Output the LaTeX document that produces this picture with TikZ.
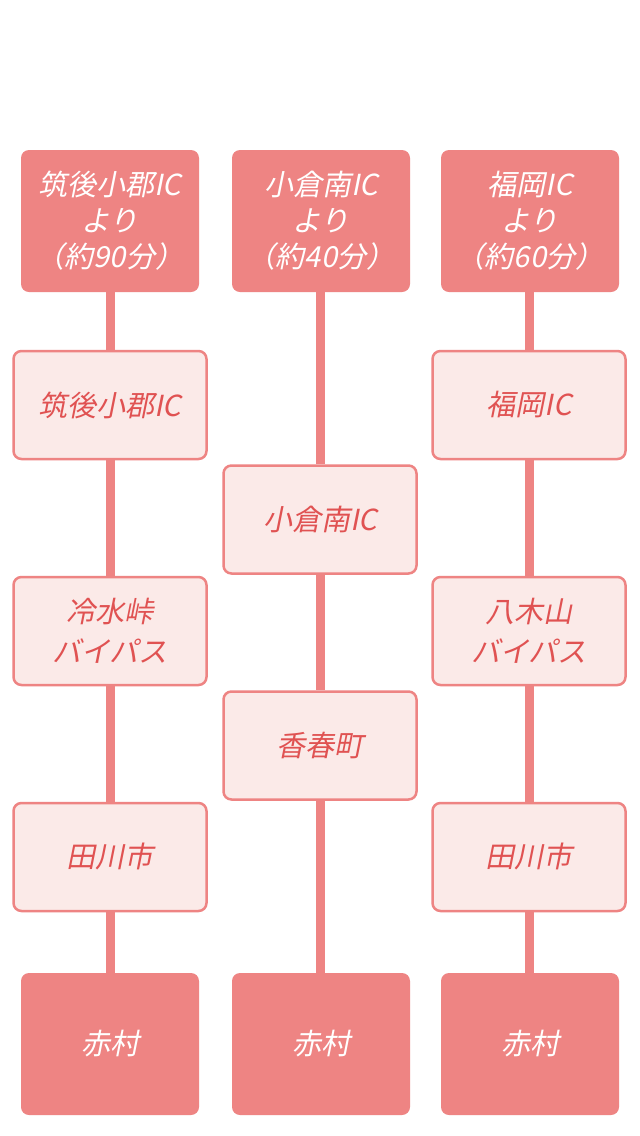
\documentclass[tikz,border=0pt]{standalone}
\usepackage{fontspec}
\newfontfamily\jp[FakeSlant=0.2]{Noto Sans CJK JP}
\definecolor{dark}{HTML}{EE8483}
\definecolor{lightf}{HTML}{FBEAE8}
\definecolor{txt}{HTML}{E05252}
\tikzset{
  endbox/.style={draw=none, fill=dark, rounded corners=8pt, minimum width=178pt, minimum height=142pt, inner sep=0pt, text=white, align=center, font=\jp\fontsize{29}{36}\selectfont},
  stopbox/.style={draw=dark, line width=2.5pt, fill=lightf, rounded corners=8pt, minimum width=193pt, minimum height=108pt, inner sep=0pt, text=txt, align=center, font=\jp\fontsize{29}{40}\selectfont},
  conn/.style={draw=dark, line width=9pt}
}
\begin{document}
\begin{tikzpicture}[x=1pt,y=-1pt]
\useasboundingbox[fill=white] (0,0) rectangle (640,1136);
% column 1
\node[endbox] (t1) at (110,221) {筑後小郡IC\\より\\（約90分）};
\node[stopbox] (a1) at (110,405) {筑後小郡IC};
\node[stopbox] (b1) at (110,631) {冷水峠\\バイパス};
\node[stopbox] (c1) at (110,857) {田川市};
\node[endbox] (e1) at (110,1044) {赤村};
% column 2
\node[endbox] (t2) at (321,221) {小倉南IC\\より\\（約40分）};
\node[stopbox] (a2) at (320,519.5) {小倉南IC};
\node[stopbox] (b2) at (320,745.5) {香春町};
\node[endbox] (e2) at (321,1044) {赤村};
% column 3
\node[endbox] (t3) at (530,221) {福岡IC\\より\\（約60分）};
\node[stopbox] (a3) at (529,405) {福岡IC};
\node[stopbox] (b3) at (529,631) {八木山\\バイパス};
\node[stopbox] (c3) at (529,857) {田川市};
\node[endbox] (e3) at (530,1044) {赤村};
% connectors
\draw[conn] (t1.south -| a1.north) -- (a1.north);
\draw[conn] (a1.south) -- (b1.north);
\draw[conn] (b1.south) -- (c1.north);
\draw[conn] (c1.south) -- (e1.north -| c1.south);
\draw[conn] (t2.south -| a2.north) -- (a2.north);
\draw[conn] (a2.south) -- (b2.north);
\draw[conn] (b2.south) -- (e2.north -| b2.south);
\draw[conn] (t3.south -| a3.north) -- (a3.north);
\draw[conn] (a3.south) -- (b3.north);
\draw[conn] (b3.south) -- (c3.north);
\draw[conn] (c3.south) -- (e3.north -| c3.south);
\end{tikzpicture}
\end{document}
